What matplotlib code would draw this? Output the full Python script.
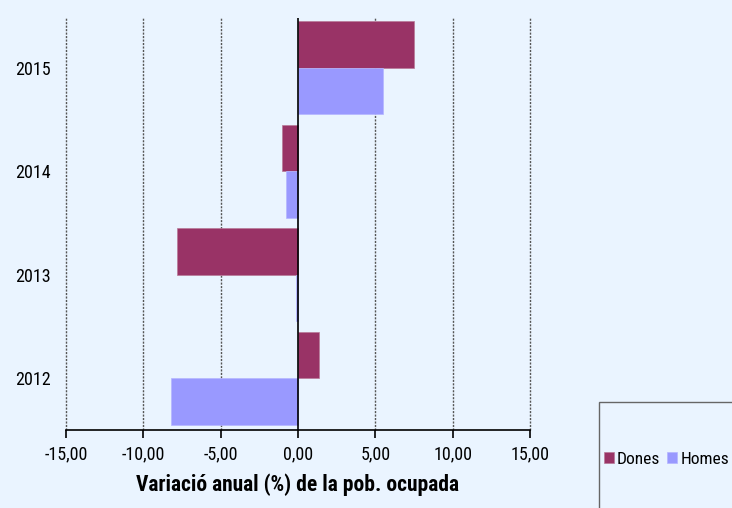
import matplotlib
matplotlib.use("Agg")
import matplotlib.pyplot as plt
import matplotlib.patches as patches
import numpy as np

# data
years = ["2012", "2013", "2014", "2015"]
dones = [1.34, -7.82, -1.06, 7.52]
homes = [-8.23, -0.13, -0.78, 5.50]
xticks = [-15, -10, -5, 0, 5, 10, 15]

bg = "#EAF4FF"
plt.rcParams['font.family'] = ['Roboto Condensed', 'DejaVu Sans']

fig = plt.figure(figsize=(7.32, 5.08), dpi=100, facecolor=bg)
ax = fig.add_axes([66/732, 1-430/508, (530-66)/732, (430-18)/508])
ax.set_facecolor(bg)

y = np.arange(len(years))
h = 0.45
ax.barh(y + h/2, dones, height=h, color="#993366", edgecolor="#b87a98", linewidth=0.5, label="Dones", zorder=3)
ax.barh(y - h/2, homes, height=h, color="#9999FF", edgecolor="#b5b5ff", linewidth=0.5, label="Homes", zorder=3)

ax.set_xlim(-15, 15)
ax.set_ylim(-0.5, 3.48)
ax.set_xticks(xticks)
ax.set_xticklabels(["{:.2f}".format(v).replace(".", ",") for v in xticks], fontsize=13)
ax.set_yticks(y)
ax.set_yticklabels(years, fontsize=13)

for v in xticks:
    if v != 0:
        ax.axvline(v, color="#555555", linestyle=(0, (1.5, 1)), linewidth=1, zorder=1, clip_on=False)
ax.axvline(0, color="black", linewidth=1.2, zorder=4)

for s in ["top", "right", "left"]:
    ax.spines[s].set_visible(False)
ax.spines["bottom"].set_linewidth(1.2)
ax.tick_params(axis="y", length=0, pad=11)
ax.tick_params(axis="x", length=6, width=1.2, pad=5)

ax.set_xlabel("Variació anual (%) de la pob. ocupada", fontsize=15.5, fontweight="bold", labelpad=7)

# legend box, cut by the figure edge
rect = patches.Rectangle((599/732, -0.1), 0.3, (1-402/508)+0.1, transform=fig.transFigure,
                         fill=False, edgecolor="#666666", linewidth=1)
fig.patches.append(rect)
fig.legend(loc="center left", bbox_to_anchor=(604/732, 1-459/508), ncol=2, frameon=False,
           fontsize=12.5, handlelength=0.55, handleheight=0.55, handletextpad=0.2,
           columnspacing=0.4, borderaxespad=0, borderpad=0)

fig.savefig("out.png", dpi=100, facecolor=bg)
